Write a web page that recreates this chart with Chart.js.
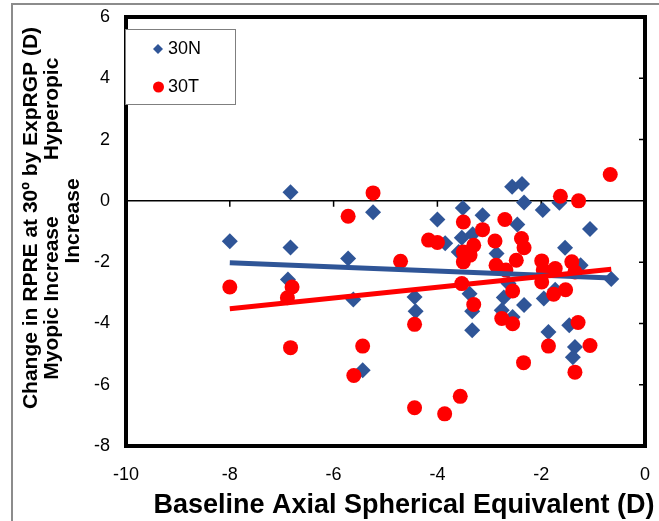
<!DOCTYPE html>
<html>
<head>
<meta charset="utf-8">
<title>RPRE change vs baseline SE</title>
<script src="https://cdn.jsdelivr.net/npm/chart.js@4.4.1/dist/chart.umd.min.js"></script>
<style>
  html, body { margin: 0; padding: 0; background: #fff; }
  canvas { display: block; }
</style>
</head>
<body>
<canvas id="chart" width="659" height="521"></canvas>
<script>
// 30N (nasal) - blue diamonds
const n30X = [-8.00, -6.83, -6.83, -6.88, -5.72, -5.62, -5.24, -5.44, -4.44, -4.42,
              -4.00, -3.85, -3.51, -3.53, -3.59, -3.32, -3.38, -3.33, -3.33, -3.13,
              -2.86, -2.72, -2.76, -2.55, -2.56, -2.37, -2.33, -2.46, -2.33, -2.63,
              -1.97, -1.95, -1.86, -1.73, -1.65, -1.54, -1.24, -1.46, -1.35, -1.39,
              -1.06, -0.65];
const n30Y = [-1.32, 0.28, -1.52, -2.57, -1.88, -3.22, -0.37, -5.53, -3.14, -3.60,
              -0.61, -1.38, -0.23, -1.20, -1.67, -1.09, -3.03, -3.60, -4.22, -0.47,
              -1.72, -3.15, -3.57, -3.79, 0.46, 0.55, -0.05, -0.77, -3.40, -2.70,
              -0.30, -3.19, -4.28, -2.90, -0.06, -1.53, -2.10, -4.06, -4.77, -5.10,
              -0.92, -2.55];

// 30T (temporal) - red circles
const t30X = [-8.00, -6.80, -6.89, -6.83, -5.72, -5.24, -5.44, -5.61, -4.71, -4.44,
              -4.44, -3.86, -3.56, -3.50, -2.70, -3.13, -4.17, -4.00, -3.30, -2.89,
              -2.38, -2.33, -3.50, -3.37, -3.50, -2.87, -2.48, -2.68, -1.99, -1.99,
              -1.73, -1.41, -1.35, -3.53, -2.55, -1.76, -1.53, -3.30, -2.76, -2.55,
              -1.96, -2.34, -1.86, -1.63, -1.28, -1.29, -1.35, -1.06, -0.67];
const t30Y = [-2.81, -2.81, -3.16, -4.79, -0.50, 0.26, -4.74, -5.70, -1.97, -4.03,
              -6.75, -6.95, -6.38, -0.69, -0.61, -0.94, -1.28, -1.36, -1.45, -1.31,
              -1.23, -1.53, -1.67, -1.77, -1.99, -2.10, -1.94, -2.26, -1.96, -2.65,
              -2.21, -1.99, -2.32, -2.70, -2.94, -3.05, -2.90, -3.38, -3.84, -4.01,
              -2.26, -5.28, -4.74, 0.15, 0.00, -3.97, -5.59, -4.72, 0.86];

// linear trend lines (end points)
const trendX = [-8.00, -0.65];
const n30TrendY = [-2.02, -2.52];
const t30TrendY = [-3.52, -2.23];

// axes
const xTicks = [-10, -8, -6, -4, -2, 0];
const yTicks = [-8, -6, -4, -2, 0, 2, 4, 6];
const seriesNames = ['30N', '30T'];

const BLUE = '#2f5597';
const RED = '#ff0000';
const FONT = "'Liberation Sans', Arial, sans-serif";

const toPoints = (xs, ys) => xs.map((x, i) => ({ x: x, y: ys[i] }));

// frame, plot border, zero line, inner ticks, legend box, axis titles
const decorations = {
    id: 'decorations',
    beforeDraw(chart) {
        const { ctx } = chart;
        ctx.save();
        ctx.fillStyle = '#fff';
        ctx.fillRect(0, 0, chart.width, chart.height);
        ctx.strokeStyle = '#8c8c8c';
        ctx.lineWidth = 2;
        ctx.beginPath();
        ctx.moveTo(12, chart.height);
        ctx.lineTo(12, 4);
        ctx.lineTo(chart.width, 4);
        ctx.stroke();
        ctx.restore();
    },
    beforeDatasetsDraw(chart) {
        const { ctx, chartArea: a, scales: { x, y } } = chart;
        const y0 = y.getPixelForValue(0);
        ctx.save();
        ctx.strokeStyle = '#000';
        ctx.lineWidth = 1.5;
        ctx.beginPath();
        ctx.moveTo(a.left, y0);
        ctx.lineTo(a.right, y0);
        xTicks.forEach(v => {
            const px = x.getPixelForValue(v);
            ctx.moveTo(px, y0);
            ctx.lineTo(px, y0 + 6);
        });
        yTicks.forEach(v => {
            const py = y.getPixelForValue(v);
            ctx.moveTo(a.right, py);
            ctx.lineTo(a.right - 6, py);
        });
        ctx.stroke();
        ctx.restore();
    },
    afterDatasetsDraw(chart) {
        const { ctx, chartArea: a } = chart;
        ctx.save();
        ctx.strokeStyle = '#000';
        ctx.lineWidth = 4;
        ctx.strokeRect(a.left, a.top, a.right - a.left, a.bottom - a.top);

        // legend
        ctx.fillStyle = '#fff';
        ctx.fillRect(126, 29, 110, 75);
        ctx.strokeStyle = '#7f7f7f';
        ctx.lineWidth = 1;
        ctx.strokeRect(125.5, 29.5, 110, 75);
        ctx.fillStyle = BLUE;
        ctx.beginPath();
        ctx.moveTo(158, 44);
        ctx.lineTo(163, 49);
        ctx.lineTo(158, 54);
        ctx.lineTo(153, 49);
        ctx.closePath();
        ctx.fill();
        ctx.fillStyle = RED;
        ctx.beginPath();
        ctx.arc(158.5, 87, 5.5, 0, Math.PI * 2);
        ctx.fill();
        ctx.fillStyle = '#000';
        ctx.font = '18px ' + FONT;
        ctx.textBaseline = 'middle';
        ctx.textAlign = 'left';
        ctx.fillText(seriesNames[0], 168, 49);
        ctx.fillText(seriesNames[1], 168, 87);
        ctx.restore();
    },
    afterDraw(chart) {
        const { ctx } = chart;
        ctx.save();
        ctx.fillStyle = '#000';
        ctx.textAlign = 'center';
        ctx.textBaseline = 'alphabetic';

        // x title
        ctx.font = 'bold 27px ' + FONT;
        ctx.fillText('Baseline Axial Spherical Equivalent (D)', 404, 513);

        // y title, rotated, baseline given as screen x
        ctx.font = 'bold 21px ' + FONT;
        const put = (text, bx, cy) => {
            ctx.save();
            ctx.translate(bx, cy);
            ctx.rotate(-Math.PI / 2);
            ctx.fillText(text, 0, 0);
            ctx.restore();
        };
        put('Change in RPRE at 30º by ExpRGP (D)', 37, 218);
        put('Myopic Increase', 58, 298);
        put('Hyperopic', 58, 109);
        put('Increase', 79, 221);
        ctx.restore();
    }
};

new Chart(document.getElementById('chart'), {
    type: 'scatter',
    data: {
        datasets: [
            {
                type: 'line',
                label: 'Linear (30T)',
                data: toPoints(trendX, t30TrendY),
                borderColor: RED,
                borderWidth: 5,
                pointRadius: 0,
                order: 0
            },
            {
                type: 'line',
                label: 'Linear (30N)',
                data: toPoints(trendX, n30TrendY),
                borderColor: BLUE,
                borderWidth: 5,
                pointRadius: 0,
                order: 1
            },
            {
                label: seriesNames[1],
                data: toPoints(t30X, t30Y),
                pointStyle: 'circle',
                pointRadius: 7.5,
                backgroundColor: RED,
                borderWidth: 0,
                order: 2
            },
            {
                label: seriesNames[0],
                data: toPoints(n30X, n30Y),
                pointStyle: 'rectRot',
                pointRadius: 8,
                backgroundColor: BLUE,
                borderWidth: 0,
                order: 3
            }
        ]
    },
    options: {
        responsive: false,
        animation: false,
        layout: { padding: { top: 17, right: 14, left: 0, bottom: 0 } },
        plugins: {
            legend: { display: false },
            tooltip: { enabled: false }
        },
        scales: {
            x: {
                type: 'linear',
                min: -10,
                max: 0,
                afterBuildTicks: scale => { scale.ticks = xTicks.map(v => ({ value: v })); },
                afterFit: scale => {
                    scale.height = 75;
                    scale.paddingLeft = 0;
                    scale.paddingRight = 0;
                },
                grid: { display: false, drawTicks: false },
                border: { display: false },
                ticks: {
                    padding: 18,
                    color: '#000',
                    font: { family: FONT, size: 18 }
                }
            },
            y: {
                type: 'linear',
                min: -8,
                max: 6,
                afterBuildTicks: scale => { scale.ticks = yTicks.map(v => ({ value: v })); },
                afterFit: scale => {
                    scale.width = 126;
                    scale.paddingTop = 0;
                    scale.paddingBottom = 0;
                },
                grid: { display: false, drawTicks: false },
                border: { display: false },
                ticks: {
                    padding: 16,
                    color: '#000',
                    font: { family: FONT, size: 18 }
                }
            }
        }
    },
    plugins: [decorations]
});
</script>
</body>
</html>
